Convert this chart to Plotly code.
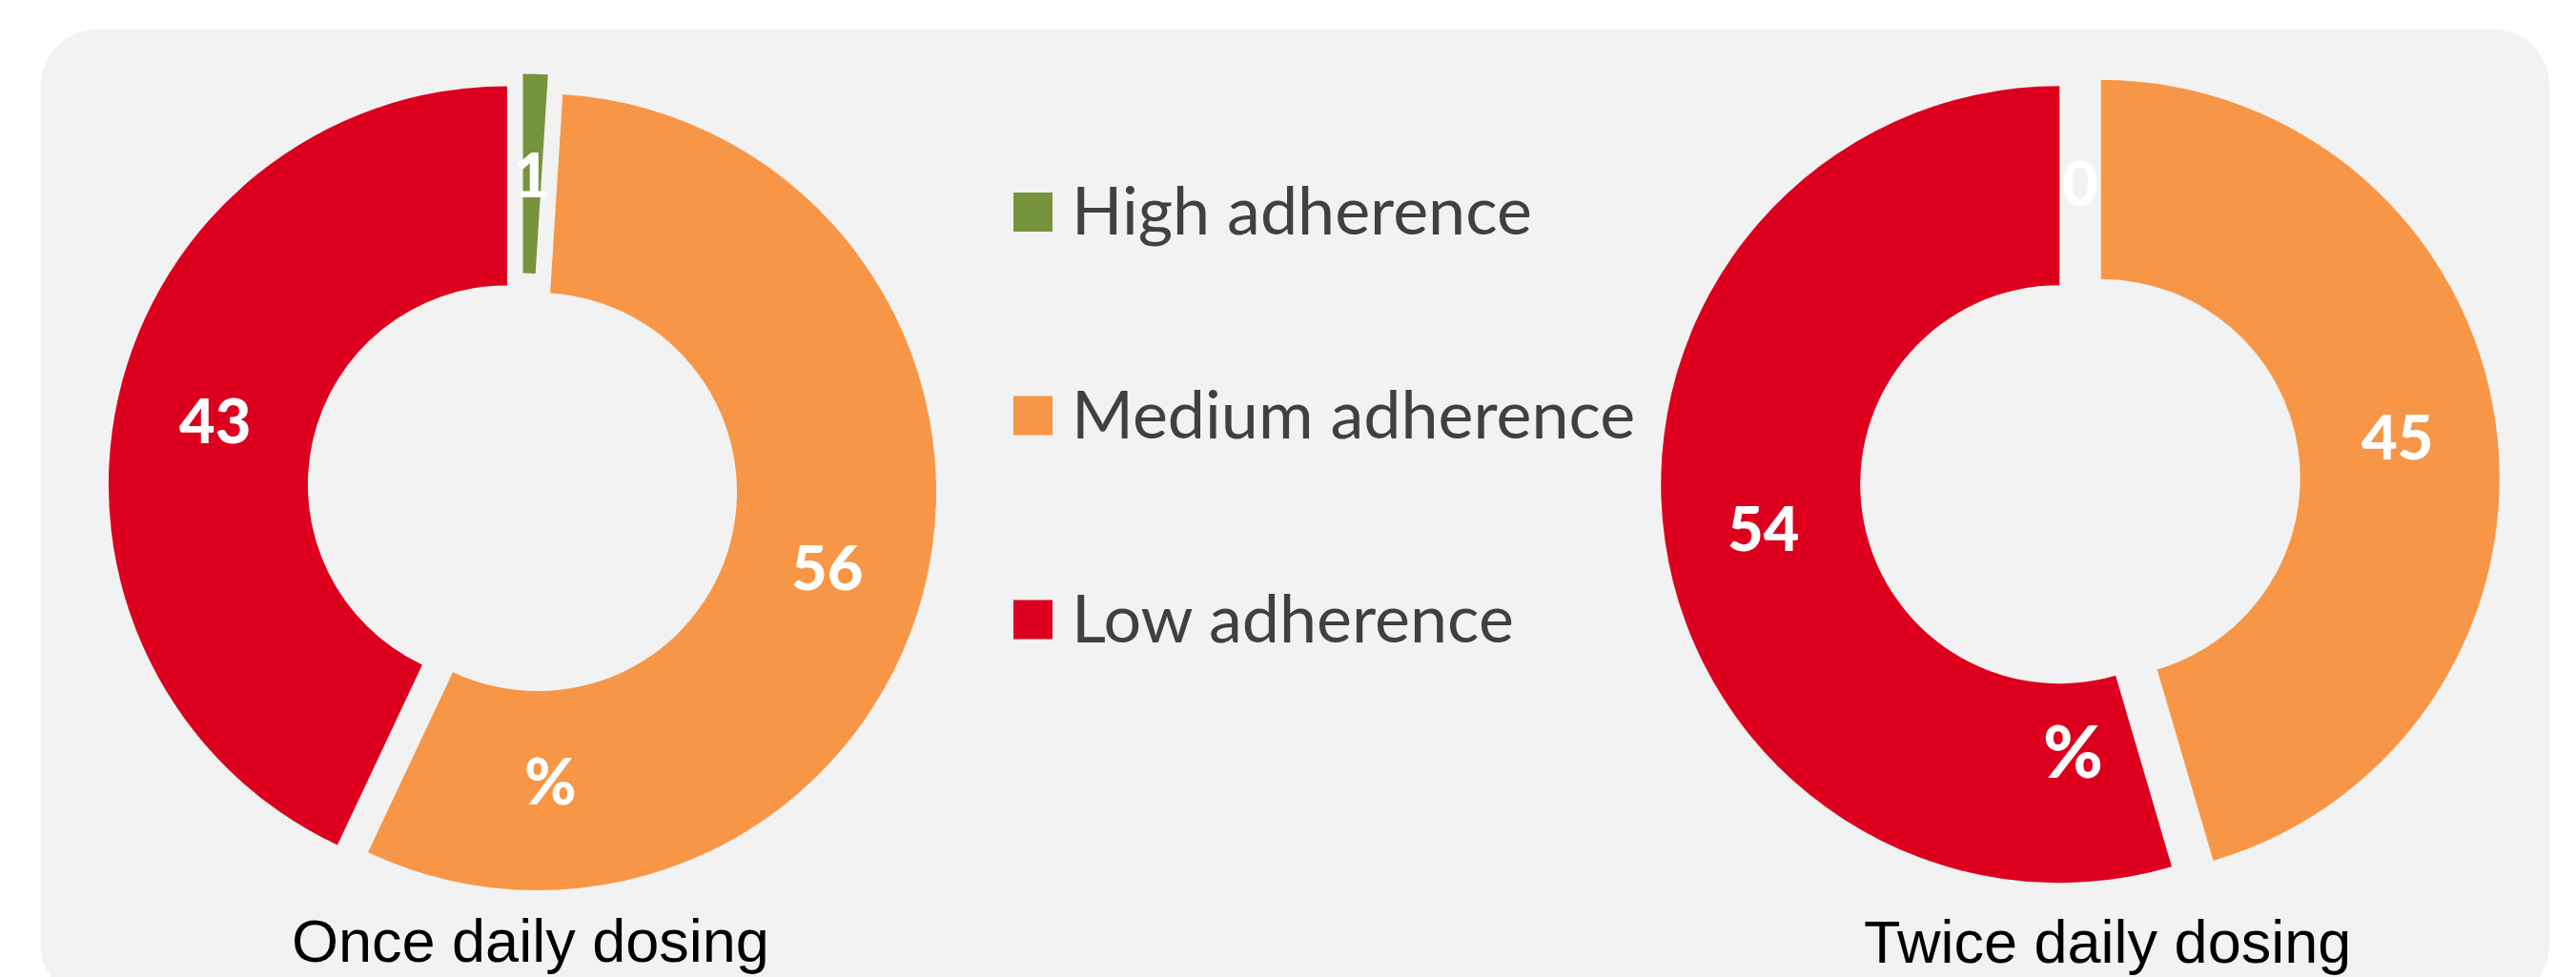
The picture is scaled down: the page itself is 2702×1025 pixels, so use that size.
import math
import plotly.graph_objects as go

# ---------------- data ----------------
categories = ["High adherence", "Medium adherence", "Low adherence"]
once_daily = [1, 56, 43]
twice_daily = [0, 45, 54]
chart_titles = ["Once daily dosing", "Twice daily dosing"]
unit_label = "%"

# ---------------- style / layout ----------------
colors = ["#77933C", "#F79646", "#DC001E"]
W, H = 2702, 1025
R = 418          # outer radius (px)
HOLE = 0.5

pie_specs = [
    dict(values=once_daily, cx=548, cy=512, pull_px=16.5, title=chart_titles[0],
         tx=556, tbase=1009, pct=(577, 818, 66)),
    dict(values=twice_daily, cx=2182, cy=505, pull_px=22, title=chart_titles[1],
         tx=2210, tbase=1010, pct=(2174, 786, 76)),
]


def px(x):
    return x / W


def py(y):
    return 1 - y / H


fig = go.Figure()
annotations = []
shapes = []

# rounded background panel
x0, x1, y0, y1, rc = 43, 2674, 31, 1050, 58
k = 0.5523 * rc
path = (
    f"M {px(x0 + rc)},{py(y0)} L {px(x1 - rc)},{py(y0)} "
    f"C {px(x1 - rc + k)},{py(y0)} {px(x1)},{py(y0 + rc - k)} {px(x1)},{py(y0 + rc)} "
    f"L {px(x1)},{py(y1 - rc)} "
    f"C {px(x1)},{py(y1 - rc + k)} {px(x1 - rc + k)},{py(y1)} {px(x1 - rc)},{py(y1)} "
    f"L {px(x0 + rc)},{py(y1)} "
    f"C {px(x0 + rc - k)},{py(y1)} {px(x0)},{py(y1 - rc + k)} {px(x0)},{py(y1 - rc)} "
    f"L {px(x0)},{py(y0 + rc)} "
    f"C {px(x0)},{py(y0 + rc - k)} {px(x0 + rc - k)},{py(y0)} {px(x0 + rc)},{py(y0)} Z"
)
shapes.append(dict(type="path", xref="paper", yref="paper", path=path,
                   fillcolor="#F2F2F2", line=dict(width=0), layer="below"))

label_font = dict(family="Lato", size=65, color="white", weight=900)

for spec in pie_specs:
    vals = spec["values"]
    cx, cy, dpx = spec["cx"], spec["cy"], spec["pull_px"]
    pull = dpx / R
    half = R * (1 + pull)
    fig.add_trace(go.Pie(
        values=vals, labels=categories, sort=False, direction="clockwise",
        rotation=0, hole=HOLE,
        pull=[pull if v > 0 else 0 for v in vals],
        marker=dict(colors=colors, line=dict(width=0)),
        textinfo="none", showlegend=False,
        domain=dict(x=[px(cx - half), px(cx + half)],
                    y=[py(cy + half), py(cy - half)]),
    ))
    # value labels at mid-ring of each (exploded) slice
    total = sum(vals)
    cum = 0
    rm = R * (1 + HOLE) / 2
    for v in vals:
        mid = (cum + v / 2) / total * 2 * math.pi
        cum += v
        d = (dpx if v > 0 else 0) + rm
        lx = cx + d * math.sin(mid)
        ly = cy - d * math.cos(mid)
        annotations.append(dict(x=px(lx), y=py(ly), xref="paper", yref="paper",
                                text=str(v), showarrow=False, font=label_font,
                                xanchor="center", yanchor="middle"))
    # "%" text box
    qx, qy, qs = spec["pct"]
    annotations.append(dict(x=px(qx), y=py(qy), xref="paper", yref="paper",
                            text=unit_label, showarrow=False,
                            font=dict(family="Lato", size=qs, color="white", weight=900),
                            xanchor="center", yanchor="middle"))
    # chart title below
    annotations.append(dict(x=px(spec["tx"]), y=py(spec["tbase"] - 22), xref="paper", yref="paper",
                            text=spec["title"], showarrow=False,
                            font=dict(family="Liberation Sans, Arial", size=63, color="black"),
                            xanchor="center", yanchor="middle"))

# manual legend
leg_x0, leg_size, leg_text_x = 1063, 41, 1122
leg_centers = [222.5, 436, 650]
for cat, col, yc in zip(categories, colors, leg_centers):
    shapes.append(dict(type="rect", xref="paper", yref="paper",
                       x0=px(leg_x0), x1=px(leg_x0 + leg_size),
                       y0=py(yc + leg_size / 2), y1=py(yc - leg_size / 2),
                       fillcolor=col, line=dict(width=0), layer="below"))
    annotations.append(dict(x=px(leg_text_x), y=py(yc - 3), xref="paper", yref="paper",
                            text=cat, showarrow=False,
                            font=dict(family="Lato", size=70, color="#404040"),
                            xanchor="left", yanchor="middle"))

fig.update_layout(
    width=W, height=H,
    margin=dict(l=0, r=0, t=0, b=0),
    paper_bgcolor="white", plot_bgcolor="white",
    showlegend=False,
    shapes=shapes, annotations=annotations,
)

fig.write_html("out.html")
